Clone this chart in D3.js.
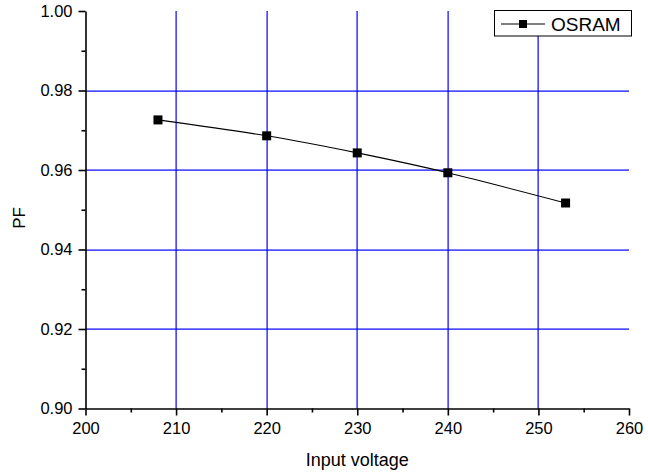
<!DOCTYPE html>
<html><head><meta charset="utf-8">
<script src="https://cdn.jsdelivr.net/npm/d3@7"></script>
<style>body{margin:0;background:#fff}svg{display:block;font-family:Arial,"Liberation Sans",sans-serif}</style>
</head><body>
<script>
const voltages = [208, 220, 230, 240, 253];
const pfValues = [0.9726, 0.9686, 0.9643, 0.9593, 0.9517];
const seriesName = "OSRAM";
const xTicks = [200, 210, 220, 230, 240, 250, 260];
const yTicks = [0.90, 0.92, 0.94, 0.96, 0.98, 1.00];
const xMinor = [205, 215, 225, 235, 245, 255];
const yMinor = [0.91, 0.93, 0.95, 0.97, 0.99];

const W = 648, H = 476;
const L = 85.5, R = 629, T = 11, B = 408.5;
const svg = d3.select("body").append("svg").attr("width", W).attr("height", H);
const x = d3.scaleLinear().domain([200, 260]).range([L, R]);
const y = d3.scaleLinear().domain([0.90, 1.00]).range([B, T]);

// grid as thin filled rects
const grid = svg.append("g").attr("class", "grid");
grid.selectAll("rect.gv").data(xTicks.slice(1, -1)).join("rect").attr("class", "gv")
  .attr("x", d => Math.round(x(d)) - 0.5).attr("y", T).attr("width", 1.2).attr("height", B - T)
  .attr("fill", "#0000ff");
grid.selectAll("rect.gh").data(yTicks.slice(1, -1)).join("rect").attr("class", "gh")
  .attr("x", L).attr("y", d => Math.round(y(d)) - 0.5).attr("width", R - L).attr("height", 1.2)
  .attr("fill", "#0000ff");

// axes
const xAxis = d3.axisBottom(x).tickValues(xTicks).tickFormat(d3.format("d")).tickSizeInner(7).tickSizeOuter(0).tickPadding(7);
const yAxis = d3.axisLeft(y).tickValues(yTicks).tickFormat(d3.format(".2f")).tickSizeInner(7).tickSizeOuter(0).tickPadding(6);
const xa = svg.append("g").attr("transform", `translate(0,${B})`).call(xAxis);
const ya = svg.append("g").attr("transform", `translate(${L},0)`).call(yAxis);
const xm = svg.append("g").attr("transform", `translate(0,${B})`).call(d3.axisBottom(x).tickValues(xMinor).tickFormat("").tickSize(4).tickSizeOuter(0));
const ym = svg.append("g").attr("transform", `translate(${L},0)`).call(d3.axisLeft(y).tickValues(yMinor).tickFormat("").tickSize(4).tickSizeOuter(0));
xm.select(".domain").remove(); ym.select(".domain").remove();
[xa, ya, xm, ym].forEach(a => {
  a.selectAll("path.domain").attr("stroke", "#000").attr("stroke-width", 1.6);
  a.selectAll(".tick line").attr("stroke", "#000").attr("stroke-width", 1.6);
  a.selectAll("text").attr("font-size", 16.5).attr("fill", "#000").attr("font-family", "Arial, 'Liberation Sans', sans-serif");
});

// titles
svg.append("text").attr("x", (L + R) / 2).attr("y", 466).attr("text-anchor", "middle")
  .attr("font-size", 18).text("Input voltage");
svg.append("text").attr("transform", `translate(25,218) rotate(-90)`).attr("text-anchor", "middle")
  .attr("font-size", 17).text("PF");

// line
const data = voltages.map((v, i) => ({ v, p: pfValues[i] }));
svg.append("path").datum(data)
  .attr("d", d3.line().x(d => x(d.v)).y(d => y(d.p)).curve(d3.curveNatural))
  .attr("fill", "none").attr("stroke", "#000").attr("stroke-width", 1.1);
svg.selectAll("rect.pt").data(data).join("rect").attr("class", "pt")
  .attr("x", d => x(d.v) - 4.5).attr("y", d => y(d.p) - 4.5)
  .attr("width", 9).attr("height", 9).attr("fill", "#000");

// legend
const lg = svg.append("g");
lg.append("rect").attr("x", 494.5).attr("y", 10.5).attr("width", 137).attr("height", 25.5)
  .attr("fill", "#fff").attr("stroke", "#000").attr("stroke-width", 1);
lg.append("line").attr("x1", 501).attr("x2", 545).attr("y1", 24).attr("y2", 24).attr("stroke", "#000").attr("stroke-width", 1.1);
lg.append("rect").attr("x", 519).attr("y", 20).attr("width", 8).attr("height", 8).attr("fill", "#000");
lg.append("text").attr("x", 551).attr("y", 30.5).attr("font-size", 19).text(seriesName);
</script>
</body></html>
